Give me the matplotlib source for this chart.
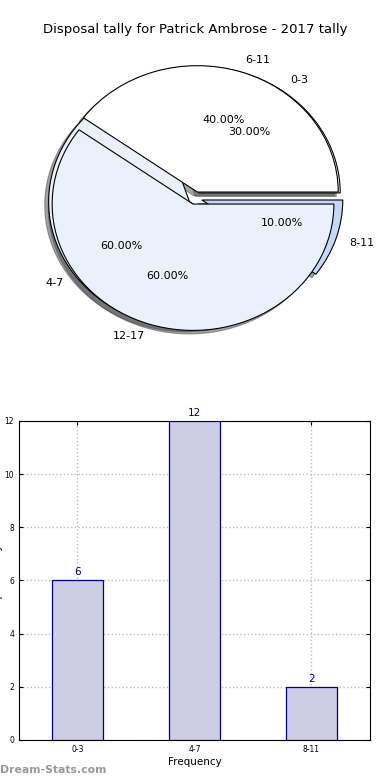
import matplotlib
matplotlib.use("Agg")
import matplotlib.pyplot as plt

# disposal tally per bin
bins = ["0-3", "4-7", "8-11"]
counts = [6, 12, 2]
# second breakdown drawn on same pie
bins2 = ["6-11", "12-17"]
counts2 = [40, 60]

title = "Disposal tally for Patrick Ambrose - 2017 tally"

fig = plt.figure(figsize=(3.9, 7.8), dpi=100)

# ---- pie ----
ax1 = fig.add_axes([0.049, 0.5436, 0.903, 0.405])
ax1.pie(counts, labels=bins, explode=[0.05] * 3, shadow=True,
        colors=["white", "#EBF0FD", "#C6D8F8"], autopct="%1.2f%%",
        wedgeprops={"edgecolor": "black", "linewidth": 0.8},
        textprops={"fontsize": 8})
ax1.pie(counts2, labels=bins2, explode=[0.05] * 2, shadow=True,
        colors=["white", "#EBF0FD"], autopct="%1.2f%%",
        wedgeprops={"edgecolor": "black", "linewidth": 0.8},
        textprops={"fontsize": 8})
ax1.set_aspect("auto")
ax1.set_xlim(-1.25, 1.25)
ax1.set_ylim(-1.25, 1.25)
fig.text(0.5, 1 - 30 / 780, title, ha="center", va="center", fontsize=9.5)

# ---- bars ----
ax2 = fig.add_axes([0.0487, 0.0513, 0.9, 0.409])
x = range(len(bins))
ax2.bar(x, counts, width=0.44, color="#CCCCE5", edgecolor="navy", linewidth=0.9, zorder=3)
for i, c in zip(x, counts):
    ax2.text(i, c + 0.12, str(c), ha="center", va="bottom", color="navy", fontsize=7.5)
ax2.set_xlim(-0.5, 2.5)
ax2.set_ylim(0, 12)
ax2.set_yticks(range(0, 13, 2))
ax2.set_xticks(list(x))
ax2.set_xticklabels(bins)
ax2.tick_params(labelsize=5.5, direction="in", top=True, right=True, length=3)
ax2.grid(True, linestyle=":", color="#BBBBBB", linewidth=1.0, zorder=0)
ax2.set_xlabel("Frequency", fontsize=7.5, labelpad=2)
# y label sits mostly off the left edge, as in the original
fig.text(3 / 390, 1 - 580 / 780, "Disposal Tally", rotation=90,
         ha="right", va="center", fontsize=7.5)

fig.text(0.0, 1 - 770 / 780, "Dream-Stats.com", color="#999999", fontsize=7.8,
         fontweight="bold", ha="left", va="center")

fig.savefig("out.png", dpi=100)
